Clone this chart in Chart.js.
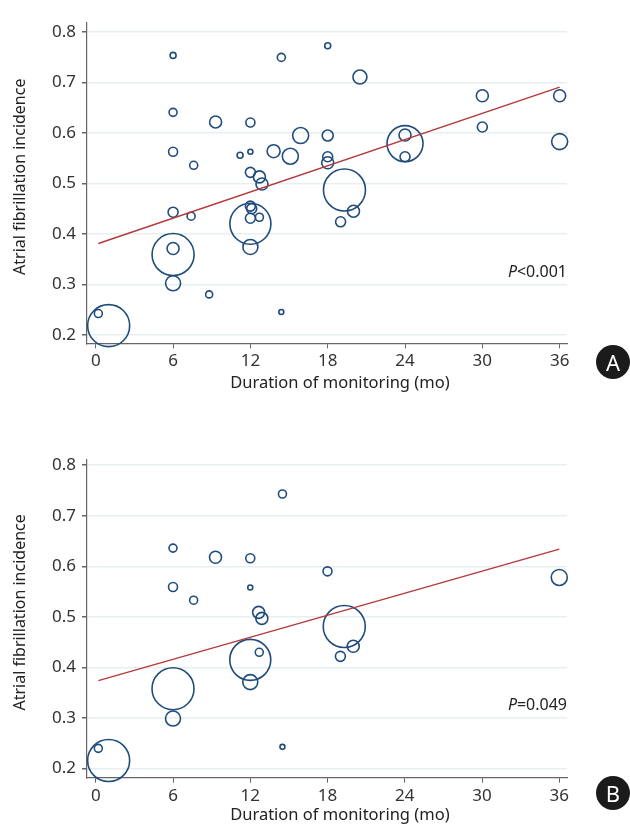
<!DOCTYPE html>
<html>
<head>
<meta charset="utf-8">
<script src="https://cdn.jsdelivr.net/npm/chart.js@4.4.0/dist/chart.umd.min.js"></script>
<style>
body { margin: 0; background: #fff; width: 630px; height: 829px; position: relative; overflow: hidden; font-family: "Noto Sans", sans-serif; }
.box { position: absolute; left: 0; width: 630px; }
.badge { position: absolute; width: 34px; height: 34px; border-radius: 50%; background: #1b1b1b; color: #fff; font-size: 22px; line-height: 34px; text-align: center; }
</style>
</head>
<body>
<div class="box" style="top:0;height:397px"><canvas id="chartA"></canvas></div>
<div class="box" style="top:437px;height:392px"><canvas id="chartB"></canvas></div>
<div class="badge" style="left:596px;top:345px">A</div>
<div class="badge" style="left:596px;top:776px">B</div>
<script>
// panel A - all studies
var monthsA    = [0.2, 1.0, 6, 6, 6, 6, 6, 6, 6, 7.6, 7.4, 8.8, 9.3, 11.2, 12, 12, 12, 12, 12.1, 12, 12, 12, 12.7, 12.7, 12.9, 13.8, 14.4, 14.4, 15.1, 15.9, 18, 18, 18, 18, 19.3, 19.0, 20.0, 20.5, 24, 24, 24, 30, 30, 36, 36];
var incidenceA = [0.242, 0.218, 0.754, 0.641, 0.563, 0.443, 0.371, 0.359, 0.302, 0.536, 0.435, 0.280, 0.622, 0.556, 0.563, 0.621, 0.522, 0.455, 0.450, 0.431, 0.420, 0.374, 0.433, 0.513, 0.499, 0.564, 0.750, 0.245, 0.554, 0.595, 0.773, 0.595, 0.553, 0.541, 0.487, 0.424, 0.445, 0.711, 0.596, 0.579, 0.553, 0.674, 0.612, 0.674, 0.583];
var weightA    = [4, 21, 3, 4, 4.5, 5, 6, 21, 7.5, 4, 4, 3.5, 6, 3, 2.5, 4.5, 5, 5, 5, 5, 20.5, 7.5, 4, 6, 6, 6.5, 4, 2.5, 8, 8, 3, 5.5, 5, 6, 21, 5, 6, 7, 6, 18, 5, 6, 5, 6, 8];
var trendXA = [0.2, 36];
var trendYA = [0.381, 0.691];

// panel B - subset
var monthsB    = [0.2, 1.0, 6, 6, 6, 6, 7.6, 9.3, 12, 12, 12.65, 12.9, 12.7, 12, 12, 14.5, 14.5, 18, 19.3, 20.0, 19.0, 36];
var incidenceB = [0.240, 0.216, 0.636, 0.559, 0.358, 0.299, 0.533, 0.618, 0.616, 0.558, 0.509, 0.497, 0.430, 0.415, 0.371, 0.743, 0.243, 0.590, 0.481, 0.442, 0.422, 0.578];
var weightB    = [4, 21, 4, 4.5, 21, 7.5, 4, 6, 4.5, 2.5, 6, 6, 4, 20.5, 7.5, 4, 2.5, 4.5, 21, 6, 5, 8];
var trendXB = [0.2, 36];
var trendYB = [0.374, 0.634];

var xTicks = [0, 6, 12, 18, 24, 30, 36];
var yTicks = [0.2, 0.3, 0.4, 0.5, 0.6, 0.7, 0.8];

var pLabelPlugin = {
    id: 'pLabel',
    afterDatasetsDraw: function(chart, args, opts) {
        var ctx = chart.ctx;
        var y = chart.scales.y.getPixelForValue(opts.at);
        var right = chart.chartArea.right;
        ctx.save();
        ctx.textBaseline = 'middle';
        ctx.textAlign = 'right';
        ctx.fillStyle = '#222';
        ctx.font = '16px "Noto Sans"';
        var w = ctx.measureText(opts.rest).width;
        ctx.fillText(opts.rest, right, y);
        ctx.font = 'italic 16px "Noto Sans"';
        ctx.fillText('P', right - w, y);
        ctx.restore();
    }
};

function makeChart(id, xs, ys, rs, tx, ty, pRest, yMin, yMax, xMax, xAxisH) {
    var pts = xs.map(function(x, i) { return { x: x, y: ys[i], r: rs[i] }; });
    var line = tx.map(function(x, i) { return { x: x, y: ty[i] }; });
    return new Chart(document.getElementById(id), {
        type: 'bubble',
        data: {
            datasets: [{
                type: 'line',
                data: line,
                borderColor: '#b43a3d',
                borderWidth: 1.5,
                pointRadius: 0,
                fill: false
            }, {
                data: pts,
                backgroundColor: 'rgba(0,0,0,0)',
                borderColor: '#1f4c7c',
                borderWidth: 1.6,
                clip: false
            }]
        },
        options: {
            responsive: true,
            maintainAspectRatio: false,
            animation: false,
            layout: { padding: { top: 13, right: 63, left: 0, bottom: 0 } },
            scales: {
                x: {
                    type: 'linear',
                    min: -0.68,
                    max: xMax,
                    afterBuildTicks: function(s) { s.ticks = xTicks.map(function(v) { return { value: v }; }); },
                    afterFit: function(s) { s.height = xAxisH; },
                    ticks: { color: '#333', font: { size: 17, family: 'Noto Sans' }, padding: 3 },
                    grid: { drawOnChartArea: false, tickColor: '#666', tickLength: 5 },
                    border: { color: '#666', width: 1.2 },
                    // leading spaces nudge the title a little right, like the original
                    title: { display: true, text: '      Duration of monitoring (mo)', color: '#222', font: { size: 16.5, family: 'Noto Sans' }, padding: { top: 0, bottom: 4 } }
                },
                y: {
                    min: yMin,
                    max: yMax,
                    afterBuildTicks: function(s) { s.ticks = yTicks.map(function(v) { return { value: v }; }); },
                    afterFit: function(s) { s.width = 87; },
                    ticks: { color: '#333', font: { size: 17, family: 'Noto Sans' }, padding: 6, callback: function(v) { return v.toFixed(1); } },
                    grid: { color: '#e6eff2', lineWidth: 1.5, tickColor: '#666', tickLength: 5 },
                    border: { color: '#666', width: 1.2 },
                    title: { display: true, text: '   Atrial fibrillation incidence', color: '#222', font: { size: 16, family: 'Noto Sans' }, padding: { top: 11, bottom: 0 } }
                }
            },
            plugins: {
                legend: { display: false },
                tooltip: { enabled: false },
                pLabel: { rest: pRest, at: 0.324 }
            }
        },
        plugins: [pLabelPlugin]
    });
}

makeChart('chartA', monthsA, incidenceA, weightA, trendXA, trendYA, '<0.001', 0.183, 0.819, 36.57, 53.7);
makeChart('chartB', monthsB, incidenceB, weightB, trendXB, trendYB, '=0.049', 0.182, 0.811, 36.6, 51.3);
</script>
</body>
</html>
